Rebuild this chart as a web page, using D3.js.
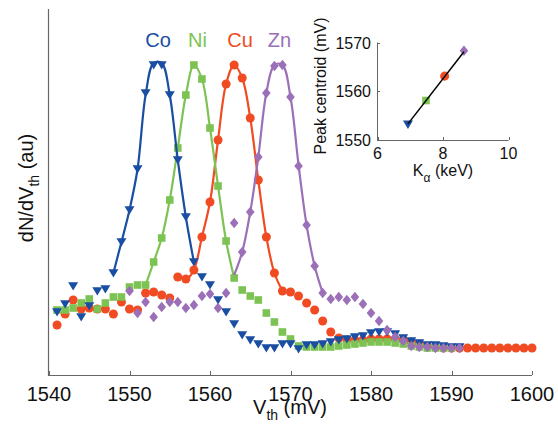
<!DOCTYPE html>
<html>
<head>
<meta charset="utf-8">
<script src="https://cdn.jsdelivr.net/npm/d3@7"></script>
<style>
  body { margin: 0; background: #fff; }
  text { font-family: "Liberation Sans", Arial, sans-serif; fill: #111; }
</style>
</head>
<body>
<div id="chart"></div>
<script>
// threshold voltage (mV) of first point of each series, values in arbitrary units
var coStart = 1541;
var coValues = [63, 71, 89, 58, 69, 84, 86, 102, 133, 165,
    206, 282, 310, 310, 280, 215, 158, 113, 98, 90,
    75, 63, 51, 40, 35, 31, 27, 27, 31, 31,
    26, 30, 30, 31, 33, 35, 36, 38, 39, 42,
    43, 43, 41, 37, 34, 32, 30, 30, 29, 28, 28];
var niStart = 1541;
var niValues = [65, 65, 67, 72, 76, 66, 72, 78, 78, 88,
    90, 90, 113, 137, 175, 227, 280, 310, 296, 247,
    189, 134, 97, 85, 79, 75, 62, 53, 43, 36,
    29, 28, 28, 28, 28, 29, 30, 31, 32, 33,
    33, 33, 32, 31, 29, 28, 27, 27, 27, 27];
var cuStart = 1541;
var cuValues = [50, 61, 75, 66, 67, 66, 66, 61, 73, 66,
    65, 82, 83, 80, 77, 98, 96, 105, 138, 173,
    235, 291, 310, 297, 257, 195, 138, 102, 84, 83,
    79, 72, 65, 54, 43, 37, 35, 35, 35, 36,
    36, 36, 36, 35, 33, 31, 29, 28, 27, 27,
    27, 27, 27, 27, 27, 27, 27, 27, 27, 27];
var znStart = 1550;
var znValues = [84,
    62, 73, 58, 68, 73, 73, 67, 70, 79, 81,
    67, 82, 152, 123, 163, 218, 282, 309, 310, 278,
    209, 150, 109, 82, 76, 78, 75, 78, 71, 62,
    54, 45, 38, 34, 29, 28, 28, 27, 27, 27,
    27];

// fitted curves over the peaks
var coFitStart = 1548;
var coFit = [102, 133, 165, 206, 280, 312, 312, 280, 215, 158, 113];
var niFitStart = 1552;
var niFit = [90, 113, 137, 175, 227, 280, 310, 296, 247, 189, 134, 97];
var cuFitStart = 1557;
var cuFit = [94, 105, 138, 173, 235, 291, 310, 297, 257, 195, 138, 102, 84];
var znFitStart = 1563;
var znFit = [100, 123, 163, 218, 282, 310, 310, 278, 210, 150, 109, 82];

var xTicks = [1540, 1550, 1560, 1570, 1580, 1590, 1600];

// inset
var elements = ["Co", "Ni", "Cu", "Zn"];
var kAlpha = [6.93, 7.48, 8.05, 8.64];
var centroid = [1553.2, 1558.1, 1563.1, 1568.3];
var fitKev = [6.93, 8.64];
var fitCentroid = [1553.3, 1568.1];
var insetXTicks = [6, 8, 10];
var insetYTicks = [1550, 1560, 1570];

var colors = { Co: "#1a4ea2", Ni: "#7dc354", Cu: "#f04b23", Zn: "#9b70b8" };
var shapes = {
    Co: "M-5,-3.8L5,-3.8L0,4.6Z",
    Ni: "M-3.8,-3.8L3.8,-3.8L3.8,3.8L-3.8,3.8Z",
    Cu: d3.symbol(d3.symbolCircle, 64)(),
    Zn: "M0,-5.3L4.3,0L0,5.3L-4.3,0Z"
};

var width = 558, height = 424;
var svg = d3.select("#chart").append("svg")
    .attr("width", width)
    .attr("height", height);

var x = d3.scaleLinear().domain([1540, 1600]).range([49, 532]);
var y = d3.scaleLinear().domain([0, 366]).range([375, 9]);

function toPoints(start, values) {
    return values.map(function (v, i) { return [start + i, v]; });
}

var series = [
    { name: "Cu", pts: toPoints(cuStart, cuValues), fit: toPoints(cuFitStart, cuFit) },
    { name: "Ni", pts: toPoints(niStart, niValues), fit: toPoints(niFitStart, niFit) },
    { name: "Co", pts: toPoints(coStart, coValues), fit: toPoints(coFitStart, coFit) },
    { name: "Zn", pts: toPoints(znStart, znValues), fit: toPoints(znFitStart, znFit) }
];

var line = d3.line()
    .x(function (d) { return x(d[0]); })
    .y(function (d) { return y(d[1]); })
    .curve(d3.curveCatmullRom);

// axes (left and bottom only, inward ticks)
var axisColor = "#666";
svg.append("line")
    .attr("x1", x(1540)).attr("x2", x(1600))
    .attr("y1", 375.5).attr("y2", 375.5)
    .attr("stroke", axisColor).attr("stroke-width", 1.2);
svg.append("line")
    .attr("x1", 48.5).attr("x2", 48.5)
    .attr("y1", 9).attr("y2", 376)
    .attr("stroke", axisColor).attr("stroke-width", 1.2);

svg.selectAll(".xtick")
    .data(xTicks)
    .enter()
    .append("line")
    .attr("x1", function (d) { return Math.round(x(d)) + 0.5; })
    .attr("x2", function (d) { return Math.round(x(d)) + 0.5; })
    .attr("y1", 375).attr("y2", 371)
    .attr("stroke", axisColor);

svg.selectAll(".xlabel")
    .data(xTicks)
    .enter()
    .append("text")
    .attr("x", function (d) { return x(d); })
    .attr("y", 401)
    .attr("text-anchor", "middle")
    .style("font-size", "20px")
    .text(function (d) { return d; });

// x axis title
var xt = svg.append("text")
    .attr("x", 290)
    .attr("y", 414)
    .attr("text-anchor", "middle")
    .style("font-size", "20px");
xt.append("tspan").text("V");
xt.append("tspan").attr("dy", 6).style("font-size", "14px").text("th");
xt.append("tspan").attr("dy", -6).text(" (mV)");

// y axis title
var yt = svg.append("text")
    .attr("transform", "translate(33,188) rotate(-90)")
    .attr("text-anchor", "middle")
    .style("font-size", "20px");
yt.append("tspan").text("dN/dV");
yt.append("tspan").attr("dy", 6).style("font-size", "14px").text("th");
yt.append("tspan").attr("dy", -6).text(" (au)");

// data
series.forEach(function (s) {
    var g = svg.append("g");
    g.selectAll("path.m")
        .data(s.pts)
        .enter()
        .append("path")
        .attr("class", "m")
        .attr("d", shapes[s.name])
        .attr("transform", function (d) { return "translate(" + x(d[0]) + "," + y(d[1]) + ")"; })
        .attr("fill", colors[s.name]);
    g.append("path")
        .datum(s.fit)
        .attr("d", line)
        .attr("fill", "none")
        .attr("stroke", colors[s.name])
        .attr("stroke-width", 2.2);
});

// element names
var labelX = [158, 197.5, 240, 279.5];
svg.selectAll(".elabel")
    .data(elements)
    .enter()
    .append("text")
    .attr("x", function (d, i) { return labelX[i]; })
    .attr("y", 47)
    .attr("text-anchor", "middle")
    .style("font-size", "20px")
    .style("fill", function (d) { return colors[d]; })
    .text(function (d) { return d; });

// inset
var ix = d3.scaleLinear().domain([6, 10]).range([377.5, 508.5]);
var iy = d3.scaleLinear().domain([1550, 1570]).range([140, 42.5]);
var inset = svg.append("g");

inset.append("line")
    .attr("x1", 377.5).attr("x2", 377.5)
    .attr("y1", iy(1570)).attr("y2", 140.5)
    .attr("stroke", axisColor);
inset.append("line")
    .attr("x1", 377).attr("x2", ix(10))
    .attr("y1", 140.5).attr("y2", 140.5)
    .attr("stroke", axisColor);

inset.selectAll(".ixt")
    .data(insetXTicks)
    .enter()
    .append("line")
    .attr("x1", function (d) { return Math.round(ix(d)) + 0.5; })
    .attr("x2", function (d) { return Math.round(ix(d)) + 0.5; })
    .attr("y1", 140).attr("y2", 137)
    .attr("stroke", axisColor);
inset.selectAll(".iyt")
    .data(insetYTicks)
    .enter()
    .append("line")
    .attr("x1", 377).attr("x2", 380)
    .attr("y1", function (d) { return Math.round(iy(d)) + 0.5; })
    .attr("y2", function (d) { return Math.round(iy(d)) + 0.5; })
    .attr("stroke", axisColor);

inset.selectAll(".ixl")
    .data(insetXTicks)
    .enter()
    .append("text")
    .attr("x", function (d) { return ix(d); })
    .attr("y", 159)
    .attr("text-anchor", "middle")
    .style("font-size", "16px")
    .text(function (d) { return d; });
inset.selectAll(".iyl")
    .data(insetYTicks)
    .enter()
    .append("text")
    .attr("x", 371)
    .attr("y", function (d) { return iy(d) + 6; })
    .attr("text-anchor", "end")
    .style("font-size", "16px")
    .text(function (d) { return d; });

var ixTitle = inset.append("text")
    .attr("x", 443)
    .attr("y", 176)
    .attr("text-anchor", "middle")
    .style("font-size", "16px");
ixTitle.append("tspan").text("K");
ixTitle.append("tspan").attr("dy", 6).style("font-size", "12px").text("α");
ixTitle.append("tspan").attr("dy", -6).text(" (keV)");

inset.append("text")
    .attr("transform", "translate(326,86) rotate(-90)")
    .attr("text-anchor", "middle")
    .style("font-size", "16px")
    .text("Peak centroid (mV)");

inset.selectAll(".ipt")
    .data(elements)
    .enter()
    .append("path")
    .attr("d", function (d) { return shapes[d]; })
    .attr("transform", function (d, i) { return "translate(" + ix(kAlpha[i]) + "," + iy(centroid[i]) + ")"; })
    .attr("fill", function (d) { return colors[d]; });

inset.append("line")
    .attr("x1", ix(fitKev[0])).attr("y1", iy(fitCentroid[0]))
    .attr("x2", ix(fitKev[1])).attr("y2", iy(fitCentroid[1]))
    .attr("stroke", "#000")
    .attr("stroke-width", 1.5);
</script>
</body>
</html>
